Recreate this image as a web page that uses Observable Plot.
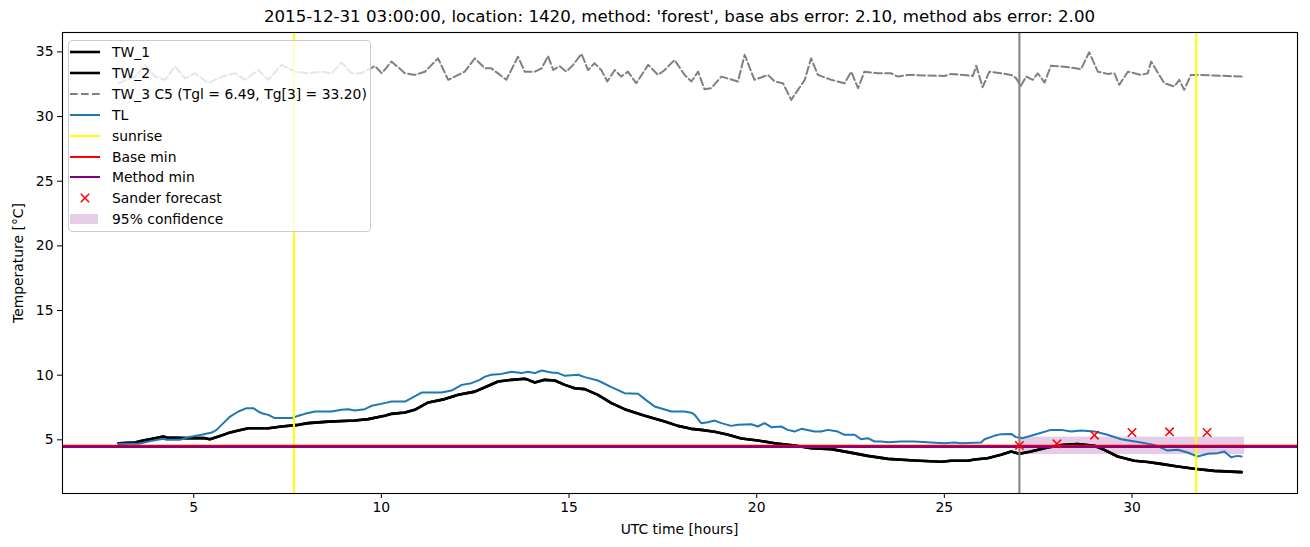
<!DOCTYPE html>
<html><head><meta charset="utf-8">
<script src="https://cdn.jsdelivr.net/npm/d3@7"></script>
<script src="https://cdn.jsdelivr.net/npm/@observablehq/plot@0.6"></script>
<style>
body{margin:0;background:#fff;}
#wrap{position:relative;width:1310px;height:547px;font-family:"DejaVu Sans",sans-serif;color:#000;overflow:hidden;}
#wrap svg{position:absolute;left:0;top:0;}
.txt{position:absolute;white-space:nowrap;}
#title{font-size:16.67px;line-height:18px;top:8px;left:679.5px;transform:translateX(-50%);}
#xlabel{font-size:13.9px;line-height:16px;top:521px;left:679.5px;transform:translateX(-50%);}
#ylabel{font-size:13.9px;line-height:16px;left:18px;top:263px;transform:translate(-50%,-50%) rotate(-90deg);}
#legend{position:absolute;left:68px;top:39.5px;width:303px;height:192px;border:1px solid #cccccc;border-radius:4px;background:rgba(255,255,255,0.8);box-sizing:border-box;}
.lrow{position:absolute;left:0;height:20px;}
.lrow svg{position:absolute;left:3px;top:0;}
.lrow span{position:absolute;left:43px;top:1px;font-size:13.9px;line-height:18px;white-space:nowrap;}
</style></head><body>
<div id="wrap"></div>
<script>
// ---- data ----
const titleText = "2015-12-31 03:00:00, location: 1420, method: 'forest', base abs error: 2.10, method abs error: 2.00";
const xLabel = "UTC time [hours]";
const yLabel = "Temperature [\u00B0C]";
const xTicks = [5, 10, 15, 20, 25, 30];
const yTicks = [5, 10, 15, 20, 25, 30, 35];

const tlHours = [3.00,3.53,3.88,4.19,4.28,4.63,4.86,5.21,5.48,5.61,5.79,5.97,6.19,6.41,6.59,6.72,6.86,6.99,7.16,7.61,7.79,7.96,8.23,8.67,8.94,9.12,9.29,9.56,9.74,10.09,10.27,10.63,10.80,11.07,11.60,11.87,12.14,12.40,12.62,12.76,12.93,13.20,13.47,13.73,13.91,14.09,14.27,14.53,14.71,14.89,15.24,15.42,15.77,16.13,16.48,16.84,17.02,17.28,17.73,18.08,18.26,18.35,18.52,18.70,18.88,19.06,19.32,19.50,19.86,20.03,20.21,20.39,20.65,20.83,21.01,21.19,21.54,21.72,21.90,22.16,22.34,22.61,22.78,22.96,23.14,23.32,23.50,23.85,24.20,25.00,25.27,25.45,25.98,26.07,26.33,26.51,26.78,26.91,27.09,27.40,27.84,28.11,28.38,28.64,29.00,29.35,29.71,30.24,30.59,30.95,31.22,31.48,31.75,32.02,32.28,32.46,32.64,32.81,32.92];
const tlValues = [4.69,4.69,4.92,5.08,5.00,5.00,5.20,5.39,5.56,5.77,6.29,6.80,7.19,7.45,7.45,7.19,7.01,6.93,6.68,6.68,6.86,7.01,7.19,7.19,7.32,7.37,7.27,7.37,7.63,7.84,7.96,7.96,8.22,8.66,8.66,8.81,9.25,9.38,9.64,9.89,10.03,10.10,10.26,10.16,10.26,10.16,10.36,10.20,10.16,9.95,10.03,9.85,9.59,9.07,8.61,8.56,8.15,7.58,7.19,7.19,7.10,6.93,6.29,6.36,6.49,6.29,6.08,6.16,6.21,6.03,6.29,5.98,6.03,5.77,5.64,5.85,5.64,5.64,5.77,5.64,5.39,5.39,5.05,5.13,4.87,4.87,4.82,4.87,4.87,4.74,4.79,4.74,4.79,5.05,5.31,5.44,5.46,5.21,5.13,5.39,5.77,5.77,5.64,5.72,5.64,5.39,5.05,4.79,4.61,4.17,4.23,4.02,3.71,3.92,3.97,4.10,3.66,3.76,3.71];

const twHours = [3.00,3.44,3.62,3.97,4.19,4.28,4.77,5.30,5.43,5.66,5.92,6.19,6.46,6.99,7.34,7.79,8.05,8.59,9.29,9.65,10.09,10.27,10.63,10.89,11.25,11.69,12.05,12.49,12.76,13.11,13.47,13.82,13.91,14.09,14.35,14.62,14.89,15.15,15.42,15.77,16.13,16.48,17.02,17.55,17.90,18.26,18.52,18.88,19.24,19.59,20.03,20.48,21.01,21.45,21.99,22.43,22.96,23.50,24.20,24.92,25.18,25.63,25.80,26.15,26.51,26.78,27.00,27.31,27.75,28.11,28.55,29.00,29.26,29.62,30.06,30.42,30.77,31.22,31.66,32.19,32.92];
const tw1Values = [4.74,4.79,4.92,5.13,5.26,5.18,5.13,5.13,5.05,5.26,5.52,5.72,5.90,5.90,6.03,6.16,6.29,6.41,6.49,6.60,6.86,7.01,7.11,7.32,7.89,8.15,8.48,8.73,9.07,9.51,9.64,9.72,9.64,9.43,9.64,9.59,9.25,8.99,8.92,8.48,7.84,7.37,6.86,6.41,6.08,5.85,5.77,5.62,5.39,5.10,4.95,4.74,4.56,4.36,4.28,4.05,3.76,3.53,3.40,3.30,3.38,3.38,3.48,3.58,3.84,4.10,3.92,4.10,4.41,4.59,4.67,4.54,4.23,3.71,3.38,3.28,3.14,2.94,2.76,2.60,2.50];
const tw2Values = [4.74,4.79,4.92,5.13,5.26,5.18,5.13,5.13,5.05,5.26,5.52,5.72,5.90,5.90,6.03,6.16,6.29,6.41,6.49,6.60,6.86,7.01,7.11,7.32,7.89,8.15,8.48,8.73,9.07,9.51,9.64,9.72,9.64,9.43,9.64,9.59,9.25,8.99,8.92,8.48,7.84,7.37,6.86,6.41,6.08,5.85,5.77,5.62,5.39,5.10,4.95,4.74,4.56,4.36,4.28,4.05,3.76,3.53,3.40,3.30,3.38,3.38,3.48,3.58,3.84,4.10,3.92,4.10,4.41,4.59,4.67,4.54,4.23,3.71,3.38,3.28,3.14,2.94,2.76,2.60,2.50];

const tw3Hours = [3.00,3.44,3.70,3.97,4.24,4.50,4.77,5.03,5.39,5.75,6.10,6.37,6.72,6.99,7.34,7.70,8.05,8.41,8.67,8.94,9.21,9.47,9.83,10.01,10.27,10.63,10.89,11.16,11.51,11.78,12.05,12.22,12.49,12.76,12.93,13.33,13.64,13.82,14.09,14.27,14.44,14.58,14.75,14.93,15.11,15.33,15.51,15.68,15.86,16.02,16.22,16.39,16.57,16.79,17.11,17.37,17.55,17.81,18.08,18.26,18.44,18.61,18.79,19.06,19.50,19.68,19.94,20.30,20.48,20.70,20.92,21.10,21.28,21.45,21.63,21.99,22.34,22.52,22.70,22.87,23.23,23.58,23.76,24.03,25.00,25.18,25.76,25.85,26.02,26.20,26.51,26.78,26.91,27.04,27.18,27.36,27.49,27.67,27.84,28.20,28.64,28.86,29.09,29.35,29.53,29.66,29.89,30.24,30.42,30.51,30.86,31.13,31.26,31.39,31.57,31.84,32.92];
const tw3Values = [32.58,33.09,34.00,33.09,32.84,33.90,32.96,33.35,32.58,33.09,33.35,32.84,33.60,32.84,34.00,33.47,33.35,33.47,33.35,34.17,33.35,33.35,33.90,33.35,34.25,33.35,33.22,33.47,34.50,32.84,33.22,33.47,34.50,33.73,33.73,32.84,34.63,33.47,33.47,33.73,34.68,33.60,33.90,33.47,34.00,34.85,33.60,34.12,33.60,32.71,33.60,33.09,33.47,32.58,34.00,33.22,33.60,34.38,33.22,32.71,33.47,32.11,32.19,33.09,32.71,34.77,32.84,33.22,32.71,32.58,31.29,32.06,32.84,34.50,33.22,32.84,32.58,33.47,32.19,33.47,33.35,33.35,33.09,33.22,33.14,33.30,33.14,33.92,32.27,33.47,33.35,33.22,32.97,32.37,33.09,32.84,33.35,32.63,33.92,33.86,33.66,34.97,33.47,33.30,33.35,32.45,33.47,33.22,33.35,34.25,32.58,32.32,32.84,32.06,33.22,33.22,33.09];

const sunriseHours = [7.67, 31.71];
const forecastHour = [27.0];
const baseMin = [4.50];
const methodMin = [4.46];
const sanderHours = [27, 28, 29, 30, 31, 32];
const sanderValues = [4.56, 4.69, 5.36, 5.57, 5.62, 5.57];
const confHours = [27, 33];
const confLow = [3.86];
const confHigh = [5.21];

const legendLabels = ["TW_1", "TW_2", "TW_3 C5 (Tgl = 6.49, Tg[3] = 33.20)", "TL", "sunrise", "Base min", "Method min", "Sander forecast", "95% confidence"];

// ---- tables ----
const zip = (hs, vs) => hs.map((h, i) => ({h, v: vs[i]}));
const tl = zip(tlHours, tlValues);
const tw1 = zip(twHours, tw1Values);
const tw2 = zip(twHours, tw2Values);
const tw3 = zip(tw3Hours, tw3Values);
const sander = zip(sanderHours, sanderValues);
const band = [{x1: confHours[0], x2: confHours[1], y1: confLow[0], y2: confHigh[0]}];

const chart = Plot.plot({
  width: 1310, height: 547,
  marginLeft: 62, marginRight: 13, marginTop: 32, marginBottom: 54,
  x: {domain: [1.504, 34.41]},
  y: {domain: [0.85, 36.5]},
  style: {fontFamily: "DejaVu Sans", fontSize: "13.9px", color: "black", background: "transparent"},
  marks: [
    Plot.rect(band, {x1: "x1", x2: "x2", y1: "y1", y2: "y2", fill: "purple", fillOpacity: 0.2}),
    Plot.line(tw3, {x: "h", y: "v", stroke: "gray", strokeWidth: 2, strokeDasharray: "7.7,3.3"}),
    Plot.line(tw1, {x: "h", y: "v", stroke: "black", strokeWidth: 2.6}),
    Plot.line(tw2, {x: "h", y: "v", stroke: "black", strokeWidth: 2.6}),
    Plot.line(tl, {x: "h", y: "v", stroke: "#1f77b4", strokeWidth: 2}),
    Plot.ruleX(sunriseHours, {stroke: "yellow", strokeWidth: 2}),
    Plot.ruleX(forecastHour, {stroke: "gray", strokeWidth: 2}),
    Plot.ruleY(baseMin, {stroke: "red", strokeWidth: 3.2}),
    Plot.ruleY(methodMin, {stroke: "purple", strokeWidth: 2}),
    Plot.dot(sander, {x: "h", y: "v", symbol: "times", r: 3.9, stroke: "red", strokeWidth: 1.5}),
    Plot.axisX({ticks: xTicks, tickSize: 5, tickPadding: 4, label: null, tickFormat: d => String(d)}),
    Plot.axisY({ticks: yTicks, tickSize: 5, tickPadding: 4, label: null, tickFormat: d => String(d)}),
    Plot.frame({stroke: "black", strokeWidth: 1.1})
  ]
});

const wrap = document.getElementById("wrap");
wrap.appendChild(chart);

function addText(id, text) {
  const d = document.createElement("div");
  d.id = id; d.className = "txt"; d.textContent = text;
  wrap.appendChild(d);
}
addText("title", titleText);
addText("xlabel", xLabel);
addText("ylabel", yLabel);

// legend
const legend = document.createElement("div");
legend.id = "legend";
wrap.appendChild(legend);
const handles = [
  '<line x1="1" y1="10" x2="31" y2="10" stroke="black" stroke-width="2.6"/>',
  '<line x1="1" y1="10" x2="31" y2="10" stroke="black" stroke-width="2.6"/>',
  '<line x1="1" y1="10" x2="31" y2="10" stroke="gray" stroke-width="2" stroke-dasharray="7.7,3.3"/>',
  '<line x1="1" y1="10" x2="31" y2="10" stroke="#1f77b4" stroke-width="2"/>',
  '<line x1="1" y1="10" x2="31" y2="10" stroke="yellow" stroke-width="2"/>',
  '<line x1="1" y1="10" x2="31" y2="10" stroke="red" stroke-width="2"/>',
  '<line x1="1" y1="10" x2="31" y2="10" stroke="purple" stroke-width="2"/>',
  '<path d="M11.8,5.8L20.2,14.2M11.8,14.2L20.2,5.8" stroke="red" stroke-width="1.5"/>',
  '<rect x="1" y="5" width="28" height="10" fill="purple" fill-opacity="0.2"/>'
];
legendLabels.forEach((lab, i) => {
  const row = document.createElement("div");
  row.className = "lrow";
  row.style.top = (1.5 + i * 20.9) + "px";
  row.style.width = "300px";
  row.innerHTML = '<svg width="34" height="20">' + handles[i] + '</svg>';
  const s = document.createElement("span");
  s.textContent = lab;
  row.appendChild(s);
  legend.appendChild(row);
});
</script>
</body></html>
